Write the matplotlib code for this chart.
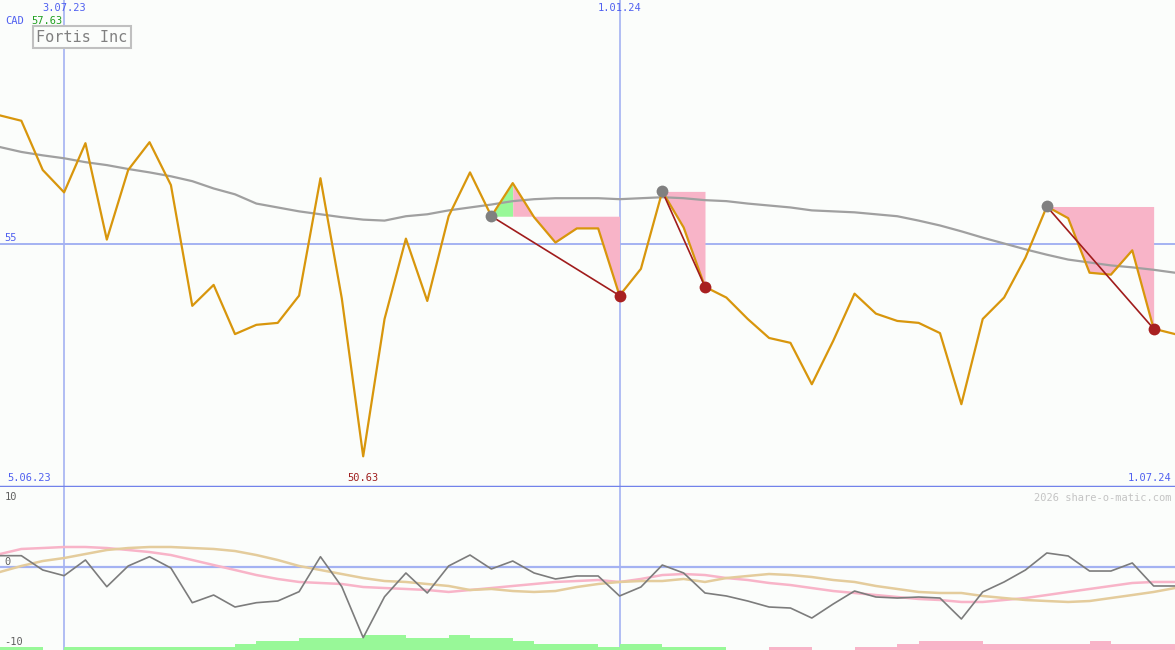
import numpy as np
import pandas as pd
import matplotlib
matplotlib.use('Agg')
import matplotlib.pyplot as plt
import matplotlib.transforms as mtransforms

# weekly closes, Fortis Inc (CAD)
dates = pd.date_range('2023-06-12', periods=56, freq='7D')
price = [57.63, 57.52, 56.51, 56.05, 57.06, 55.08, 56.51, 57.08, 56.20, 53.72,
         54.15, 53.14, 53.33, 53.37, 53.93, 56.34, 53.87, 50.63, 53.45, 55.10,
         53.82, 55.56, 56.46, 55.56, 56.24, 55.54, 55.02, 55.31, 55.31, 53.93,
         54.48, 56.07, 55.33, 54.11, 53.89, 53.45, 53.06, 52.96, 52.11, 53.00,
         53.97, 53.56, 53.41, 53.37, 53.16, 51.70, 53.45, 53.89, 54.71, 55.76,
         55.52, 54.40, 54.36, 54.86, 53.25, 53.14]
moving_avg = [56.98, 56.88, 56.81, 56.75, 56.67, 56.61, 56.53, 56.46, 56.38, 56.28,
              56.13, 56.01, 55.82, 55.74, 55.66, 55.60, 55.54, 55.49, 55.47, 55.56,
              55.60, 55.68, 55.74, 55.80, 55.87, 55.91, 55.93, 55.93, 55.93, 55.91,
              55.93, 55.95, 55.93, 55.89, 55.87, 55.82, 55.78, 55.74, 55.68, 55.66,
              55.64, 55.60, 55.56, 55.47, 55.37, 55.25, 55.12, 55.00, 54.88, 54.77,
              54.67, 54.61, 54.55, 54.51, 54.46, 54.40]

# lower panel indicators
momentum = [1.55, 1.55, -0.41, -1.19, 0.96, -2.70, 0.14, 1.41, -0.14, -4.89,
            -3.84, -5.48, -4.89, -4.66, -3.38, 1.41, -2.70, -9.68, -4.07, -0.82,
            -3.56, 0.14, 1.64, -0.27, 0.82, -0.82, -1.64, -1.23, -1.23, -3.97,
            -2.74, 0.27, -0.82, -3.56, -3.97, -4.66, -5.48, -5.62, -6.99, -5.07,
            -3.29, -4.11, -4.25, -4.11, -4.25, -7.12, -3.42, -2.05, -0.41, 1.92,
            1.51, -0.55, -0.55, 0.55, -2.60, -2.60]
fast_line = [1.78, 2.47, 2.60, 2.74, 2.74, 2.60, 2.33, 2.05, 1.64, 0.96,
             0.27, -0.41, -1.10, -1.64, -2.05, -2.19, -2.33, -2.74, -2.88, -3.01,
             -3.15, -3.42, -3.15, -2.88, -2.60, -2.33, -2.05, -1.92, -1.78, -2.05,
             -1.64, -1.10, -0.96, -1.10, -1.51, -1.78, -2.19, -2.47, -2.88, -3.29,
             -3.56, -3.84, -4.11, -4.38, -4.52, -4.79, -4.79, -4.52, -4.25, -3.84,
             -3.42, -3.01, -2.60, -2.19, -2.05, -2.05]
slow_line = [-0.68, 0.14, 0.82, 1.23, 1.78, 2.33, 2.60, 2.74, 2.74, 2.60,
             2.47, 2.19, 1.64, 0.96, 0.14, -0.41, -0.96, -1.51, -1.92, -2.05,
             -2.33, -2.60, -3.15, -3.01, -3.29, -3.42, -3.29, -2.74, -2.33, -2.05,
             -1.92, -1.92, -1.64, -2.05, -1.51, -1.23, -0.96, -1.10, -1.37, -1.78,
             -2.05, -2.60, -3.01, -3.42, -3.56, -3.56, -3.97, -4.25, -4.52, -4.66,
             -4.79, -4.66, -4.25, -3.84, -3.42, -2.88]
strength = [1, 1, 0, 1, 1, 1, 1, 1, 1, 1, 1, 2, 3, 3, 4, 4, 4, 5, 5, 4,
            4, 5, 4, 4, 3, 2, 2, 2, 1, 2, 2, 1, 1, 1, 0, 0, -1, -1, 0, 0,
            -1, -1, -2, -3, -3, -3, -2, -2, -2, -2, -2, -3, -2, -2, -2, -2]

# trades: (entry index, exit index)
trades = [(23, 29), (31, 33), (49, 54)]

BG = '#fbfdfb'
BLUE_TXT = '#5060f0'
GRID = '#a4b2f2'
FONT = 'DejaVu Sans Mono'

plt.rcParams['font.family'] = FONT

W, H = 1175, 650
fig = plt.figure(figsize=(W / 100, H / 100), dpi=100, facecolor=BG)
ax = fig.add_axes([0, 163 / H, 1, 487 / H], facecolor=BG)
ax2 = fig.add_axes([0, 0, 1, 163 / H], facecolor=BG)

price = np.array(price)
for a in (ax, ax2):
    a.set_xlim(dates[0], dates[-1])
    for s in a.spines.values():
        s.set_visible(False)
    a.set_xticks([])
    a.set_yticks([])
    a.axvline(dates[3], color=GRID, lw=1.2, zorder=1)
    a.axvline(dates[29], color=GRID, lw=1.2, zorder=1)

ax.set_ylim(50, 60)
ax2.set_ylim(-11.37, 10.96)

# --- top panel
ax.axhline(55, color=GRID, lw=1.4, zorder=1)
ax.axhline(50, color='#7282ea', lw=2.5, zorder=5, clip_on=False)

for s, e in trades:
    level = price[s]
    pk = s + int(np.argmax(price[s:e + 1]))
    if pk > s:
        ax.fill_between(dates[s:pk + 1], price[s:pk + 1], level, color='#98f898', lw=0, zorder=2)
    ax.fill_between(dates[pk:e + 1], price[pk:e + 1], level, color='#f8b4c8', lw=0, zorder=2)

ax.plot(dates, moving_avg, color='#a0a0a0', lw=1.6, zorder=3)
ax.plot(dates, price, color='#d8960c', lw=1.6, zorder=4)

for s, e in trades:
    ax.plot([dates[s], dates[e]], [price[s], price[e]], color='#a01c1c', lw=1.2, zorder=5)
    ax.plot(dates[s], price[s], 'o', color='#808080', ms=8.5, mec='none', zorder=6)
    ax.plot(dates[e], price[e], 'o', color='#a82020', ms=8.5, mec='none', zorder=6)

tx = mtransforms.blended_transform_factory(ax.transData, ax.transAxes)
ty = mtransforms.blended_transform_factory(ax.transAxes, ax.transData)
ax.text(dates[3], 0.984, '3.07.23', transform=tx, ha='center', va='center', fontsize=7.5, color=BLUE_TXT)
ax.text(dates[29], 0.984, '1.01.24', transform=tx, ha='center', va='center', fontsize=7.5, color=BLUE_TXT)
ax.text(0.004, 55.11, '55', transform=ty, ha='left', va='center', fontsize=7.5, color=BLUE_TXT)

fig.text(5 / W, 1 - 21 / H, 'CAD', ha='left', va='center', fontsize=7.5, color=BLUE_TXT)
fig.text(31 / W, 1 - 21 / H, f'{price.max():.2f}', ha='left', va='center', fontsize=7.5, color='#20a020')
fig.text(82 / W, 1 - 37 / H, 'Fortis Inc', ha='center', va='center', fontsize=11, color='#808080',
         bbox=dict(boxstyle='square,pad=0.25', fc=BG, ec='#c0c0c0', lw=1.5))

imin = int(np.argmin(price))
ax.text(dates[imin], 50.19, f'{price[imin]:.2f}', ha='center', va='center', fontsize=7.5, color='#a02020')
ax.text(0.006, 50.19, '5.06.23', transform=ty, ha='left', va='center', fontsize=7.5, color=BLUE_TXT)
ax.text(0.997, 50.19, '1.07.24', transform=ty, ha='right', va='center', fontsize=7.5, color=BLUE_TXT)

# --- lower panel
ax2.axhline(0, color=GRID, lw=1.6, zorder=1)
bottom = ax2.get_ylim()[0]
strength = np.array(strength)
bar_col = np.where(strength > 0, '#98f898', '#f8b4c8')
ax2.bar(dates, np.abs(strength) * 0.41, width=7, bottom=bottom, align='edge',
        color=bar_col, lw=0, zorder=2)
ax2.plot(dates, fast_line, color='#f8b4c8', lw=1.8, zorder=3)
ax2.plot(dates, slow_line, color='#e4cc9c', lw=1.8, zorder=3)
ax2.plot(dates, momentum, color='#7c7c7c', lw=1.2, zorder=4)

ty2 = mtransforms.blended_transform_factory(ax2.transAxes, ax2.transData)
for v, off in ((10, -3), (0, 5), (-10, -2)):
    ax2.annotate(str(v), (0.004, v), xycoords=ty2, xytext=(0, off * 0.72), textcoords='offset points',
                 ha='left', va='center', fontsize=7.5, color='#606060')
ax2.text(0.997, 0.93, '2026 share-o-matic.com', transform=ax2.transAxes, ha='right', va='center',
         fontsize=7.5, color='#c4c4c4')

fig.savefig('out.png', dpi=100, facecolor=BG)
